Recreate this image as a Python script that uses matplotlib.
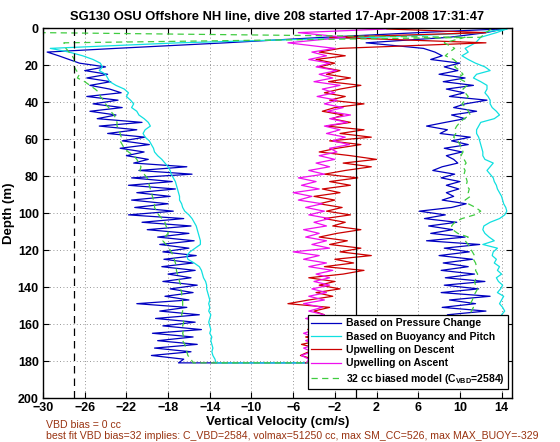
import numpy as np
import matplotlib
matplotlib.use('Agg')
from matplotlib import pyplot as plt

plt.rcParams['font.family'] = ['Liberation Sans', 'DejaVu Sans']
plt.rcParams['font.weight'] = 'bold'
plt.rcParams['mathtext.fontset'] = 'custom'
plt.rcParams['mathtext.rm'] = 'Liberation Sans:bold'
plt.rcParams['mathtext.bf'] = 'Liberation Sans:bold'

# depth bins (m), shared by descent and ascent profiles
depth = [0.5, 2.5, 5, 8, 11, 13, 15, 17, 19, 21, 23, 25, 27, 29, 31, 33, 35, 37, 39,
         41, 43, 45, 47, 49, 51, 53, 55, 57, 59, 61, 63, 65, 67, 69, 71, 73, 75, 77, 79,
         81, 83, 85, 87, 89, 91, 93, 95, 97, 99, 101, 103, 105, 107, 109, 111, 113, 115,
         117, 119, 121, 123, 125, 127, 129, 131, 133, 135, 137, 139, 141, 143, 145, 147,
         149, 151, 153, 155, 157, 159, 161, 163, 165, 167, 169, 171, 173, 175, 177, 179, 181]

# descent (shallow -> deep)
w_press_dn = [14, 6, -3, -12.5, -23, -29.6, -28.5, -27.5, -26.5, -24, -26, -23.8, -25.8, -23.5,
              -25.5, -23.6, -22.5, -25.8, -22.8, -25.2, -22.4, -25.5, -23, -24.8, -20.5, -24.6,
              -21, -23.8, -20.2, -22.4, -19.8, -22.6, -20.3, -22, -19.9, -21.3, -16.2, -20.8,
              -15.7, -21.5, -17.6, -21.8, -17.3, -21, -17.8, -21.5, -18, -21.2, -17.5, -21.8,
              -16.5, -20.5, -15.8, -20, -16, -19, -15.5, -18.8, -16, -18.5, -15.3, -18.4, -15.6,
              -18.6, -15.4, -18, -15.8, -18.5, -15.2, -17.8, -15.6, -18.3, -16, -21, -16.2,
              -18.8, -15, -19.2, -15.4, -18.5, -14.8, -19.5, -15.6, -19, -15.2, -19.3, -15.8,
              -19.6, -16.5, -17]
w_buoy_dn = [14.5, 12, 2, -17, -29.3, -27.5, -26.2, -25.2, -24.5, -24.3, -24.6, -24, -23.8,
             -23.6, -23, -22.2, -21.8, -22, -21.6, -21.3, -21.5, -21, -20.8, -20.3, -19.9, -19.7,
             -20.2, -20.4, -20.2, -19.8, -19.6, -19.4, -19.3, -19, -18.6, -18.3, -18, -17.8,
             -17.7, -17.5, -17.3, -17.2, -17.1, -17, -16.9, -16.9, -16.7, -16.6, -16.4, -16,
             -15.7, -15.5, -15.3, -15.2, -15.1, -15, -14.9, -14.9, -15.4, -15.9, -16.2, -16.1,
             -15.5, -15, -14.8, -14.7, -14.6, -14.4, -14.3, -14.3, -14.2, -14.1, -14, -14.1,
             -14, -14.1, -13.9, -14, -14.1, -14, -13.9, -14, -13.8, -13.9, -13.8, -13.7, -13.8,
             -13.7, -13.5, -13.4]
w_model_dn = [13, 12.5, 12, -28, -27.8, -27.5, -27.2, -27, -27, -27, -26.8, -26.5, -26.7, -26,
              -25.5, -25, -24.6, -24.5, -24.2, -24, -23.7, -23.5, -23.2, -23, -22.9, -22.9,
              -22.7, -22.6, -22.5, -22.6, -22.4, -22.2, -21.8, -21.3, -21, -20.8, -20.6, -20.7,
              -20.3, -20, -19.9, -19.8, -19.7, -19.6, -19.5, -19.4, -19.3, -19.3, -19.1, -18.9,
              -18.6, -18.3, -18.2, -18, -18, -18.3, -18.5, -18.2, -17.9, -17.7, -17.5, -17.4,
              -17.3, -17.2, -17.2, -17.1, -17, -16.9, -16.8, -16.8, -16.7, -16.7, -16.6, -16.6,
              -16.6, -16.6, -16.7, -16.6, -16.5, -16.6, -16.5, -16.6, -16.5, -16.6, -16.4,
              -16.3, -16.2, -16.1, -15.8, -15.6]
upwell_dn = [3, 12.5, -2.5, 12.5, -1.5, -3.5, -1, -3.8, -2, -3.5, -1.5, -2.8, -0.5, -2.6, 0.5,
             -1.5, -3, -1, -2.5, 0.8, -2, -3.2, -1.2, -2.3, -0.5, -2.8, 0.8, -1.5, 1.5, -2.5,
             0.5, -1.8, -3.5, -0.5, 2, -1.2, 1.5, -1, -3, 0.2, -2.5, -0.5, -3.2, -1.5, -4, -2,
             -3.5, -1.3, -2.8, -0.5, -3, -1, -2.2, 0.5, -1.8, -3.5, -0.8, -2.5, 0.5, -1.5, 1.5,
             -2, -0.2, -3, 0.8, -1.2, -4.5, -2, -3.5, -1.5, -3.8, -2.2, -4.5, -6.5, -2.5, -4,
             -3, -4.5, -2.8, -4.2, -4.6, -3, -4.8, -3.5, -5.2, -3.8, -4.5, -5.3, -4, -4.8]

# ascent (listed shallow -> deep, drawn bottom -> top)
w_press_up = [14.2, 12.5, 9, 1, 6.5, 7.6, 8.3, 7.2, 10, 8.5, 9.8, 8, 10.5, 8.4, 11.3, 8.7, 10.4,
              9, 12.6, 10.5, 9.4, 11.6, 9.2, 10.5, 8.6, 6.8, 8.8, 8.1, 11, 9.2, 10.8, 8.5, 10.2,
              8.7, 9.4, 9.8, 8.3, 7.4, 9.5, 8.2, 10, 8.7, 9.9, 8.7, 9.4, 8.3, 10.6, 9.2, 6.1, 8.6,
              6.6, 9.7, 7, 9.3, 7.2, 10.5, 6.8, 11.9, 8.5, 10.9, 8, 11.2, 8.4, 10.8, 8.2, 11.4,
              8.6, 12.4, 8.5, 11.8, 8.2, 12.9, 9, 11.5, 8.3, 12.5, 8.8, 11.8, 8.5, 12, 9, 11.5,
              8.7, 12.2, 9.2, 11.7, 8.8, 12, 10, 12]
w_buoy_up = [14.5, 13.5, 12, 11.5, 10.5, 10.8, 10.2, 10.8, 11.5, 12.4, 12.9, 11.6, 11.3, 12,
             12.6, 12.6, 12.4, 12.7, 12.9, 12.9, 13.1, 13.5, 13.8, 13.3, 12, 11.8, 11.6, 11.6,
             11.8, 11.9, 12, 12.1, 12.2, 12.2, 12.4, 13.2, 12.9, 12.6, 12.9, 13.2, 13.3, 13.5,
             13.6, 13.8, 14, 14.1, 14.2, 14.4, 14.5, 14.3, 13.8, 12.9, 12.3, 12.2, 12.4, 12.8,
             13.3, 12.2, 13.6, 13.2, 13.1, 13.5, 13.3, 13.8, 13.6, 14, 13.5, 13.7, 14.1, 13.9,
             13.6, 14.2, 14, 13.8, 14.1, 14.3, 14, 14.2, 14.3, 14.1, 14.4, 14.2, 14.3, 14.4,
             14.2, 14.5, 14.3, 14.4, 14.3, 14]
w_model_up = [-30, -30, 10.5, 8.5, 9.5, 9, 8.6, 9.4, 9.8, 9.5, 10, 10.3, 9.8, 10.5, 10.7, 10.3,
              10.5, 10.8, 10.5, 10.2, 10.6, 10.8, 11, 10.4, 10, 9.7, 9.5, 9.6, 9.4, 9.8, 10,
              10.2, 10.3, 10.1, 10.4, 10.6, 10.3, 10.5, 10.4, 10.6, 10.7, 10.6, 10.9, 10.8, 11,
              10.5, 10.8, 11.5, 12, 11.4, 10.2, 9.5, 9.2, 9.3, 9.8, 10.8, 10.5, 10.8, 11, 11.2,
              11.4, 11.3, 11.5, 11.6, 11.5, 11.7, 11.6, 11.4, 11.5, 11.7, 11.5, 11.3, 11.2, 11,
              11.3, 11.1, 11, 11.2, 11.1, 11, 11.2, 11.1, 11.3, 11.2, 11, 11.1, 11.2, 11, 11.3, 12]
upwell_up = [3, -5.5, -1, -6.5, -2, -4.2, -2.8, -4.5, -2.5, -3.8, -1.8, -3.5, -2.2, -4, -1.5,
             -3.2, -2, -3.7, -1.8, -3, -1.2, -2.7, -0.5, -2.5, -0.8, -3, -1.5, -2.8, -1, -2.2,
             -0.6, -2.5, -1.8, -3.5, -2, -3.8, -2.5, -4.5, -3, -5.5, -3.8, -5.2, -3.5, -6, -4.2,
             -5.5, -3.2, -4.8, -3, -4.5, -2.5, -4, -2.8, -5, -3.5, -4.8, -2.8, -4.2, -2.5, -6,
             -3.5, -5, -2.8, -4.5, -2.2, -3.8, -2.5, -4, -2.5, -4.2, -2.8, -4.5, -3, -5, -3.2,
             -4.5, -3, -4.8, -3.5, -4.5, -3.8, -5, -4, -4.8, -3.8, -5, -4.2, -5.2, -4.5, -4.7]

vbd_bias_line = -27
x_ticks = [-30, -26, -22, -18, -14, -10, -6, -2, 2, 6, 10, 14]
y_ticks = [0, 20, 40, 60, 80, 100, 120, 140, 160, 180, 200]

# full dive = descent followed by ascent
z_full = np.concatenate([depth, depth[::-1]])
w_press = np.concatenate([w_press_dn, w_press_up[::-1]])
w_buoy = np.concatenate([w_buoy_dn, w_buoy_up[::-1]])
w_model = np.concatenate([w_model_dn, w_model_up[::-1]])

fig = plt.figure(figsize=(5.6, 4.42), dpi=100)
ax = fig.add_axes([0.0768, 0.0995, 0.8375, 0.8371])

ax.plot(w_press, z_full, color='#0000c0', lw=0.9, label='Based on Pressure Change')
ax.plot(w_buoy, z_full, color='#10e0e0', lw=0.9, label='Based on Buoyancy and Pitch')
ax.plot(upwell_dn, depth, color='#cc0000', lw=0.9, label='Upwelling on Descent')
ax.plot(upwell_up[::-1], depth[::-1], color='#ee10ee', lw=0.9, label='Upwelling on Ascent')
ax.plot(w_model, z_full, color='#40cc40', lw=0.9, ls=(0, (5, 3.5)),
        label=r'32 cc biased model (C$_{\mathbf{VBD}}$=2584)')
ax.axvline(vbd_bias_line, color='k', lw=0.9, ls=(0, (6, 4)))
ax.axvline(0, color='k', lw=0.9)

ax.set_xlim(-30, 15)
ax.set_ylim(200, 0)
ax.set_xticks(x_ticks)
ax.set_yticks(y_ticks)
ax.grid(True, linestyle=(0, (1, 3)), color='0.45', linewidth=0.6)
ax.set_axisbelow(True)
ax.tick_params(direction='in', top=True, right=True, length=4, labelsize=9, pad=3)
for s in ax.spines.values():
    s.set_linewidth(1.0)

ax.set_title('SG130 OSU Offshore NH line, dive 208 started 17-Apr-2008 17:31:47',
             fontsize=9.3, fontweight='bold', pad=6)
ax.set_xlabel('Vertical Velocity (cm/s)', fontsize=9.5, fontweight='bold', labelpad=1)
ax.set_ylabel('Depth (m)', fontsize=9.5, fontweight='bold', labelpad=2)

leg = ax.legend(loc='lower right', bbox_to_anchor=(0.992, 0.025),
                prop={'weight': 'bold', 'size': 7.5}, fancybox=False, framealpha=1,
                edgecolor='k', labelspacing=0.32, handlelength=2.9, borderpad=0.3,
                handletextpad=0.5, borderaxespad=0)
leg.get_frame().set_linewidth(0.9)

fig.text(46 / 560, 1 - 425 / 442, 'VBD bias = 0 cc', color='#993311', fontsize=7.6,
         fontweight='normal', va='center', ha='left')
fig.text(46 / 560, 1 - 436 / 442,
         'best fit VBD bias=32 implies: C_VBD=2584, volmax=51250 cc, max SM_CC=526, max MAX_BUOY=-329',
         color='#993311', fontsize=7.6, fontweight='normal', va='center', ha='left')

fig.savefig('out.png', dpi=100)
